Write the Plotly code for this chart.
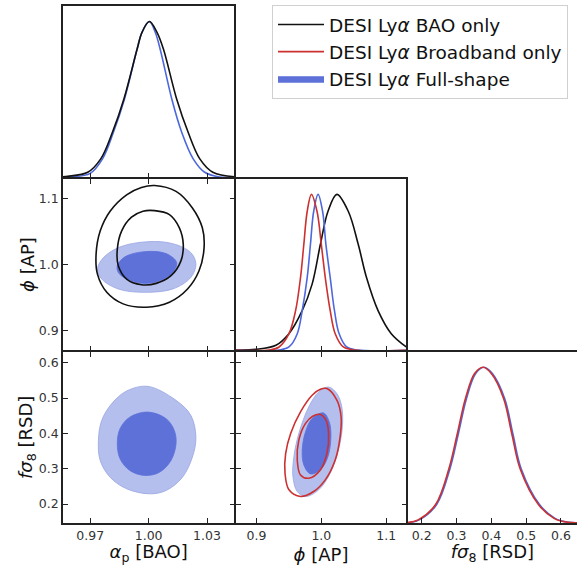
import plotly.graph_objects as go

W, H = 577, 565

# ---------------- data ----------------
alpha_ticks = [0.97, 1.00, 1.03]
phi_ticks = [0.9, 1.0, 1.1]
fs8_ticks = [0.2, 0.3, 0.4, 0.5, 0.6]

series_names = ["DESI Ly<i>α</i> BAO only", "DESI Ly<i>α</i> Broadband only", "DESI Ly<i>α</i> Full-shape"]

# 1D marginal: alpha_p
alpha_bao_x = [0.956, 0.9585, 0.9687, 0.9754, 0.9814, 0.9873, 0.9941, 0.9966, 1.0004, 1.0043, 1.0076, 1.0144, 1.0203, 1.0263, 1.033, 1.044]
alpha_bao_y = [0.003, 0.006, 0.032, 0.118, 0.289, 0.503, 0.824, 0.931, 1.0, 0.931, 0.824, 0.503, 0.289, 0.118, 0.032, 0.003]
alpha_full_x = [0.956, 0.9604, 0.970, 0.9763, 0.9819, 0.9876, 0.9941, 0.9966, 1.0004, 1.0034, 1.0059, 1.0119, 1.017, 1.0229, 1.0288, 1.0364, 1.044]
alpha_full_y = [0.0, 0.002, 0.025, 0.118, 0.289, 0.503, 0.824, 0.931, 1.0, 0.931, 0.824, 0.503, 0.289, 0.118, 0.032, 0.002, 0.0]

# 1D marginal: phi
phi_bao_x = [0.868, 0.899, 0.930, 0.950, 0.9705, 0.9858, 0.9985, 1.0102, 1.024, 1.0417, 1.057, 1.0697, 1.0875, 1.1079, 1.131]
phi_bao_y = [0.002, 0.006, 0.032, 0.106, 0.254, 0.424, 0.678, 0.890, 1.0, 0.890, 0.678, 0.466, 0.254, 0.106, 0.021]
phi_bb_x = [0.868, 0.920, 0.9349, 0.9501, 0.9603, 0.9679, 0.973, 0.9782, 0.9847, 0.9934, 1.0, 1.0061, 1.0137, 1.0214, 1.034, 1.050, 1.131]
phi_bb_y = [0.0, 0.002, 0.021, 0.106, 0.254, 0.466, 0.678, 0.890, 1.0, 0.890, 0.678, 0.466, 0.254, 0.106, 0.021, 0.002, 0.0]
phi_full_x = [0.868, 0.935, 0.9501, 0.9629, 0.9705, 0.9782, 0.9832, 0.9882, 0.995, 1.002, 1.0071, 1.0137, 1.0203, 1.0275, 1.0392, 1.055, 1.131]
phi_full_y = [0.0, 0.002, 0.021, 0.106, 0.254, 0.466, 0.678, 0.890, 1.0, 0.890, 0.678, 0.466, 0.254, 0.106, 0.021, 0.002, 0.0]

# 1D marginal: f sigma_8
fs8_bb_x = [0.160, 0.190, 0.240, 0.278, 0.302, 0.3257, 0.352, 0.376, 0.400, 0.4352, 0.4591, 0.4829, 0.5352, 0.580, 0.620, 0.646]
fs8_bb_y = [0.003, 0.020, 0.119, 0.347, 0.570, 0.800, 0.960, 1.0, 0.960, 0.800, 0.570, 0.347, 0.119, 0.030, 0.004, 0.001]
fs8_full_x = [0.160, 0.193, 0.243, 0.281, 0.305, 0.3287, 0.355, 0.379, 0.403, 0.4382, 0.4621, 0.4859, 0.5382, 0.583, 0.623, 0.646]
fs8_full_y = [0.002, 0.020, 0.119, 0.347, 0.570, 0.800, 0.960, 1.0, 0.960, 0.800, 0.570, 0.347, 0.119, 0.030, 0.004, 0.001]

# 2D: alpha_p vs phi
ap_bao95_x = [1.0031, 1.0141, 1.0225, 1.0276, 1.0285, 1.0259, 1.020, 1.0107, 0.9988, 0.9869, 0.9785, 0.9737, 0.973, 0.9751, 0.9802, 0.9887, 0.9963]
ap_bao95_y = [1.1198, 1.1108, 1.0857, 1.0556, 1.0256, 0.9905, 0.9629, 0.9429, 0.9353, 0.9403, 0.9579, 0.9854, 1.0155, 1.0507, 1.0808, 1.1057, 1.1168]
ap_bao68_x = [1.0031, 1.0107, 1.0158, 1.0178, 1.0166, 1.0115, 1.0039, 0.9963, 0.9887, 0.9844, 0.9839, 0.9861, 0.9912, 0.9971]
ap_bao68_y = [1.0817, 1.0757, 1.0556, 1.0305, 1.0055, 0.983, 0.9714, 0.9694, 0.9779, 0.998, 1.023, 1.0507, 1.0717, 1.0808]
ap_full95_x = [0.9737, 0.9768, 0.9853, 0.9997, 1.0124, 1.0217, 1.0243, 1.0217, 1.0124, 0.9971, 0.9844, 0.9759]
ap_full95_y = [0.9929, 1.0105, 1.0266, 1.0346, 1.0316, 1.018, 1.0005, 0.9805, 0.9629, 0.9579, 0.9629, 0.9779]
ap_full68_x = [0.9839, 0.9878, 0.998, 1.009, 1.0144, 1.0124, 1.0056, 0.9971, 0.9887, 0.9844]
ap_full68_y = [0.998, 1.0116, 1.0195, 1.0165, 1.003, 0.988, 0.9754, 0.9714, 0.9779, 0.988]

# 2D: alpha_p vs f sigma_8
af_full95_x = [0.9997, 1.0141, 1.0217, 1.0243, 1.0225, 1.0174, 1.009, 1.0005, 0.9887, 0.9802, 0.9751, 0.9742, 0.9759, 0.981, 0.9887]
af_full95_y = [0.533, 0.4935, 0.451, 0.3895, 0.333, 0.276, 0.2385, 0.229, 0.2433, 0.276, 0.3235, 0.380, 0.437, 0.484, 0.520]
af_full68_x = [0.9997, 1.009, 1.0132, 1.0141, 1.0115, 1.0056, 0.998, 0.9903, 0.9853, 0.9839, 0.9853, 0.9903]
af_full68_y = [0.4604, 0.4416, 0.4085, 0.3708, 0.3235, 0.290, 0.281, 0.2952, 0.3283, 0.3708, 0.4133, 0.446]

# 2D: phi vs f sigma_8
pf_bb95_x = [1.0087, 1.024, 1.0305, 1.029, 1.0214, 1.0061, 0.9882, 0.9679, 0.9501, 0.944, 0.945, 0.9527, 0.9679, 0.9858, 0.9985]
pf_bb95_y = [0.5268, 0.4938, 0.4468, 0.3904, 0.3248, 0.2685, 0.2355, 0.2214, 0.2403, 0.2873, 0.3437, 0.400, 0.4608, 0.5079, 0.5248]
pf_bb68_x = [0.9985, 1.0071, 1.0112, 1.0087, 0.9985, 0.9806, 0.9679, 0.9629, 0.9653, 0.9756, 0.9867]
pf_bb68_y = [0.4535, 0.4375, 0.400, 0.3437, 0.2966, 0.2732, 0.2825, 0.3248, 0.3811, 0.4282, 0.4487]
pf_full95_x = [1.0112, 1.024, 1.0316, 1.0325, 1.0264, 1.0137, 0.9959, 0.9756, 0.9629, 0.9562, 0.9577, 0.9653, 0.9806, 0.9959]
pf_full95_y = [0.5313, 0.5127, 0.4749, 0.4186, 0.353, 0.2873, 0.2403, 0.2214, 0.2355, 0.2778, 0.3341, 0.400, 0.4749, 0.5172]
pf_full68_x = [1.0035, 1.0122, 1.0148, 1.0102, 0.9985, 0.9832, 0.973, 0.9705, 0.9756, 0.9858]
pf_full68_y = [0.458, 0.4327, 0.3904, 0.3341, 0.2966, 0.2854, 0.3107, 0.353, 0.4045, 0.4423]

# ---------------- styling ----------------
BLACK = "#111111"
RED = "#cc3030"
BLUE_LINE = "#4d68dc"
BLUE_DARK = "#5d71d9"
BLUE_LIGHT = "#b5bfee"
BLUE_EDGE = "#97a4e2"
AX = "#222222"
FONT = "DejaVu Sans"
LW = 1.5


def closed(xs, ys):
    return list(xs) + [xs[0]], list(ys) + [ys[0]]


fig = go.Figure()


def curve(x, y, color, xa, ya, name=None, legend=False, rank=None):
    fig.add_trace(go.Scatter(x=x, y=y, mode="lines", line=dict(color=color, width=1.6, shape="spline", smoothing=1.0),
                             xaxis=xa, yaxis=ya, name=name, showlegend=legend, legendrank=rank, hoverinfo="skip"))


def filled(xs, ys, fillcolor, edge, xa, ya, name=None, legend=False, rank=None):
    x, y = closed(xs, ys)
    fig.add_trace(go.Scatter(x=x, y=y, mode="lines", fill="toself", fillcolor=fillcolor,
                             line=dict(color=edge, width=0.8, shape="spline", smoothing=1.0),
                             xaxis=xa, yaxis=ya, name=name, showlegend=legend, legendrank=rank, hoverinfo="skip"))


def ring(xs, ys, color, xa, ya):
    x, y = closed(xs, ys)
    fig.add_trace(go.Scatter(x=x, y=y, mode="lines", line=dict(color=color, width=1.6, shape="spline", smoothing=1.0),
                             xaxis=xa, yaxis=ya, showlegend=False, hoverinfo="skip"))


# row 1, col 1 : alpha marginal
curve(alpha_full_x, alpha_full_y, BLUE_LINE, "x", "y")
curve(alpha_bao_x, alpha_bao_y, BLACK, "x", "y", series_names[0], True, 1)

# row 2, col 1 : alpha vs phi
filled(ap_full95_x, ap_full95_y, BLUE_LIGHT, BLUE_EDGE, "x2", "y2")
filled(ap_full68_x, ap_full68_y, BLUE_DARK, BLUE_DARK, "x2", "y2", series_names[2], True, 3)
ring(ap_bao95_x, ap_bao95_y, BLACK, "x2", "y2")
ring(ap_bao68_x, ap_bao68_y, BLACK, "x2", "y2")

# row 2, col 2 : phi marginal
curve(phi_bao_x, phi_bao_y, BLACK, "x3", "y3")
curve(phi_full_x, phi_full_y, BLUE_LINE, "x3", "y3")
curve(phi_bb_x, phi_bb_y, RED, "x3", "y3", series_names[1], True, 2)

# row 3, col 1 : alpha vs fs8
filled(af_full95_x, af_full95_y, BLUE_LIGHT, BLUE_EDGE, "x4", "y4")
filled(af_full68_x, af_full68_y, BLUE_DARK, BLUE_DARK, "x4", "y4")

# row 3, col 2 : phi vs fs8
filled(pf_full95_x, pf_full95_y, BLUE_LIGHT, BLUE_EDGE, "x5", "y5")
filled(pf_full68_x, pf_full68_y, BLUE_DARK, BLUE_DARK, "x5", "y5")
ring(pf_bb95_x, pf_bb95_y, RED, "x5", "y5")
ring(pf_bb68_x, pf_bb68_y, RED, "x5", "y5")

# row 3, col 3 : fs8 marginal
curve(fs8_full_x, fs8_full_y, BLUE_LINE, "x6", "y6")
curve(fs8_bb_x, fs8_bb_y, RED, "x6", "y6")

# ---------------- layout ----------------
# panel edges in pixels; a half line-width gap makes neighbouring frames coincide
COL_EDGES = [63, 235, 407, 579]
ROW_EDGES = [6, 178, 351, 523]
g = LW / 2


def dx(c):
    a = COL_EDGES[c] + (g if c > 0 else 0)
    b = COL_EDGES[c + 1] - (g if c < 2 else 0)
    return [a / W, min(b / W, 1.0)]


def dy(r):
    t = ROW_EDGES[r] + (g if r > 0 else 0)
    b = ROW_EDGES[r + 1] - (g if r < 2 else 0)
    return [1 - b / H, 1 - t / H]


tickfont = dict(family=FONT, size=12.5, color="#333333")
titlefont = dict(family=FONT, size=18, color="#111111")
base = dict(showline=True, linecolor=AX, linewidth=LW, showgrid=False, zeroline=False,
            ticks="inside", ticklen=5, tickwidth=1.3, tickcolor=AX, tickfont=tickfont, automargin=False)

alpha_rng = [0.956, 1.044]
phix_rng = [0.868, 1.131]
phiy_rng = [0.870, 1.130]
fs8y_rng = [0.1465, 0.631]
fs8x_rng = [0.160, 0.646]
marg_rng = [0, 1.1]

xtitle_alpha = dict(text="<i>α</i><sub>p</sub> [BAO]", font=titlefont, standoff=8)
xtitle_phi = dict(text="<i>ϕ</i> [AP]", font=titlefont, standoff=8)
xtitle_fs8 = dict(text="<i>fσ</i><sub>8</sub> [RSD]", font=titlefont, standoff=8)

marg_y = dict(base, ticks="", showticklabels=False, mirror=True, range=marg_rng)

fig.update_layout(
    width=W, height=H, margin=dict(l=0, r=0, t=0, b=0),
    paper_bgcolor="white", plot_bgcolor="white",
    font=dict(family=FONT),
    # P11
    xaxis=dict(base, domain=dx(0), anchor="y", range=alpha_rng, tickvals=alpha_ticks, showticklabels=False, mirror=True),
    yaxis=dict(marg_y, domain=dy(0), anchor="x"),
    # P21
    xaxis2=dict(base, domain=dx(0), anchor="y2", range=alpha_rng, tickvals=alpha_ticks, showticklabels=False, mirror="ticks"),
    yaxis2=dict(base, domain=dy(1), anchor="x2", range=phiy_rng, tickvals=phi_ticks, tickformat=".1f", mirror="ticks",
                title=dict(text="<i>ϕ</i> [AP]", font=titlefont, standoff=0)),
    # P22
    xaxis3=dict(base, domain=dx(1), anchor="y3", range=phix_rng, tickvals=phi_ticks, showticklabels=False, mirror=True),
    yaxis3=dict(marg_y, domain=dy(1), anchor="x3"),
    # P31
    xaxis4=dict(base, domain=dx(0), anchor="y4", range=alpha_rng, tickvals=alpha_ticks, tickformat=".2f", mirror="ticks",
                title=xtitle_alpha),
    yaxis4=dict(base, domain=dy(2), anchor="x4", range=fs8y_rng, tickvals=fs8_ticks, tickformat=".1f", mirror="ticks",
                title=dict(text="<i>fσ</i><sub>8</sub> [RSD]", font=titlefont, standoff=0)),
    # P32
    xaxis5=dict(base, domain=dx(1), anchor="y5", range=phix_rng, tickvals=phi_ticks, tickformat=".1f", mirror="ticks",
                title=xtitle_phi),
    yaxis5=dict(base, domain=dy(2), anchor="x5", range=fs8y_rng, tickvals=fs8_ticks, showticklabels=False, mirror="ticks"),
    # P33
    xaxis6=dict(base, domain=dx(2), anchor="y6", range=fs8x_rng, tickvals=fs8_ticks, tickformat=".1f", mirror=True,
                title=xtitle_fs8),
    yaxis6=dict(marg_y, domain=dy(2), anchor="x6"),
    legend=dict(x=272 / W, y=1 - 5 / H, xanchor="left", yanchor="top", bgcolor="white",
                bordercolor="#d0d0d0", borderwidth=1, font=dict(family=FONT, size=18.5, color="#111111"),
                itemwidth=46, traceorder="normal"),
)

fig.write_html("out.html")
